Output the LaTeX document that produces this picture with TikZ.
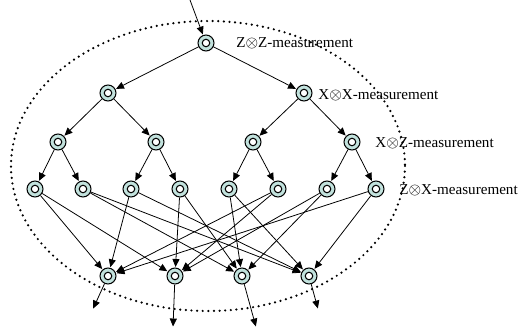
\documentclass[tikz,border=0pt]{standalone}
\usepackage{fontspec}
\setmainfont{Liberation Serif}
\usetikzlibrary{arrows.meta}
\definecolor{qfill}{RGB}{194,226,221}
\tikzset{
  qnode/.style={circle,draw=black,line width=0.6pt,fill=qfill,minimum size=0.32cm,inner sep=0pt,
    path picture={\draw[fill=white,line width=0.6pt] (path picture bounding box.center) circle [radius=0.075cm];}},
  meas/.style={anchor=west,inner sep=0pt,font=\fontsize{8.6}{10}\selectfont},
  arr/.style={line width=0.45pt,-{Triangle[length=4.5pt,width=4pt]},shorten >=0.3pt}
}
\begin{document}
\begin{tikzpicture}[x=0.02cm,y=-0.02cm]
\useasboundingbox (0,0) rectangle (522,331);
\draw[line width=1.4pt,line cap=round,dash pattern=on 0pt off 3.2pt] (208,166) ellipse [x radius=197,y radius=145];

\node[qnode] (z) at (206,43) {};
\node[qnode] (x1) at (108,93) {};
\node[qnode] (x2) at (304,93) {};
\node[qnode] (y1) at (58,142) {};
\node[qnode] (y2) at (156,142) {};
\node[qnode] (y3) at (253,142) {};
\node[qnode] (y4) at (352,142) {};
\node[qnode] (a1) at (35,189) {};
\node[qnode] (a2) at (83,189) {};
\node[qnode] (a3) at (131,189) {};
\node[qnode] (a4) at (180,189) {};
\node[qnode] (a5) at (229,189) {};
\node[qnode] (a6) at (278,189) {};
\node[qnode] (a7) at (327,189) {};
\node[qnode] (a8) at (376,189) {};
\node[qnode] (b1) at (108,276) {};
\node[qnode] (b2) at (175,276) {};
\node[qnode] (b3) at (242,276) {};
\node[qnode] (b4) at (309,276) {};

\node[meas] (lz) at (236,43) {Z$\otimes$Z-measurement};
\node[meas] (lx) at (318,95) {X$\otimes$X-measurement};
\node[meas] (ly) at (375,143) {X$\otimes$Z-measurement};
\node[meas] (la) at (399,190) {Z$\otimes$X-measurement};

\coordinate (in) at (190,0);
\coordinate (o1) at (93,309);
\coordinate (o2) at (173,327);
\coordinate (o3) at (256,327);
\coordinate (o4) at (318,309);

\draw[arr] (in) -- (z);
\draw[arr] (z) -- (x1);
\draw[arr] (z) -- (x2);
\draw[arr] (x1) -- (y1);
\draw[arr] (x1) -- (y2);
\draw[arr] (x2) -- (y3);
\draw[arr] (x2) -- (y4);
\draw[arr] (y1) -- (a1);
\draw[arr] (y1) -- (a2);
\draw[arr] (y2) -- (a3);
\draw[arr] (y2) -- (a4);
\draw[arr] (y3) -- (a5);
\draw[arr] (y3) -- (a6);
\draw[arr] (y4) -- (a7);
\draw[arr] (y4) -- (a8);

\draw[arr] (a1) -- (b1);
\draw[arr] (a1) -- (b2);
\draw[arr] (a2) -- (b3);
\draw[arr] (a2) -- (b4);
\draw[arr] (a3) -- (b1);
\draw[arr] (a3) -- (b4);
\draw[arr] (a4) -- (b2);
\draw[arr] (a4) -- (b3);
\draw[arr] (a5) -- (b3);
\draw[arr] (a5) -- (b4);
\draw[arr] (a6) -- (b1);
\draw[arr] (a6) -- (b2);
\draw[arr] (a7) -- (b2);
\draw[arr] (a7) -- (b3);
\draw[arr] (a8) -- (b1);
\draw[arr] (a8) -- (b4);

\draw[arr] (b1) -- (o1);
\draw[arr] (b2) -- (o2);
\draw[arr] (b3) -- (o3);
\draw[arr] (b4) -- (o4);
\end{tikzpicture}
\end{document}
